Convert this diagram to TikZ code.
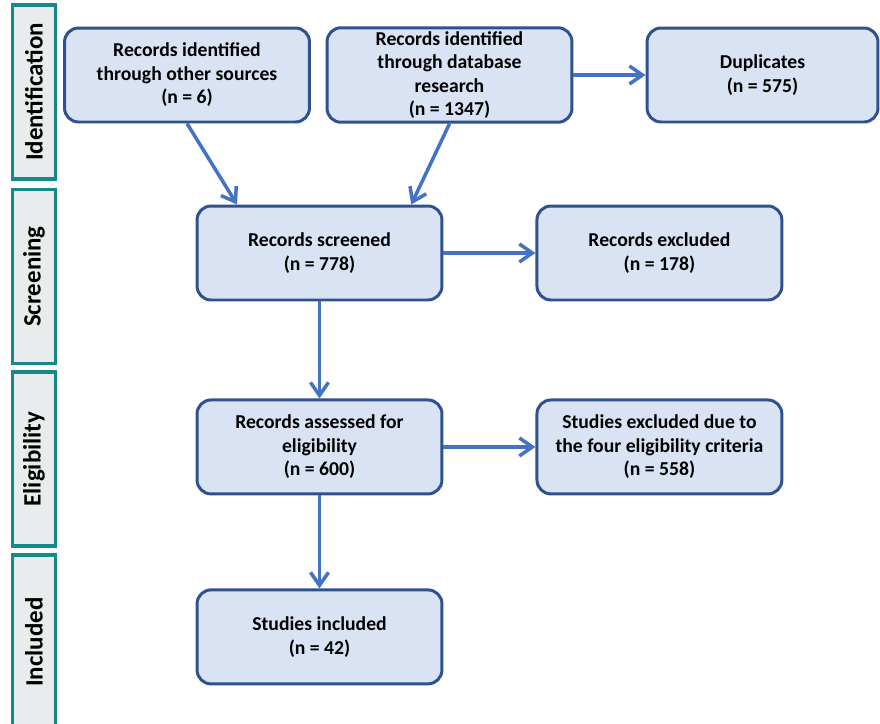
\documentclass[tikz,border=0pt]{standalone}
\usepackage{fontspec}
\setmainfont{Carlito}
\usepackage{tikz}
\usetikzlibrary{arrows.meta, positioning, calc}
\definecolor{boxfill}{HTML}{DAE3F3}
\definecolor{boxline}{HTML}{2F528F}
\definecolor{flowline}{HTML}{4472C4}
\definecolor{phaseline}{HTML}{168A8A}
\definecolor{phasefill}{HTML}{E8ECEC}

\begin{document}
\begin{tikzpicture}[x=0.02cm, y=-0.02cm,
        block/.style={rectangle, rounded corners=0.28cm, draw=boxline, line width=1.7pt, fill=boxfill,
            minimum width=4.9cm, minimum height=1.88cm, align=center, inner sep=2pt,
            font=\fontsize{11.2}{13.4}\selectfont\bfseries},
        phase/.style={rectangle, draw=phaseline, line width=2pt, fill=phasefill, rotate=90,
            minimum width=3.48cm, minimum height=0.86cm, inner sep=0pt,
            font=\fontsize{14.2}{17}\selectfont\bfseries},
        arrow/.style={-{Straight Barb[length=2.6mm, width=3.6mm]}, line width=2pt, draw=flowline}
    ]
        \useasboundingbox (0,0) rectangle (880,724);

        % Phase labels
        \node[phase] (ident) at (34,92) {Identification};
        \node[phase] (screen) at (34,276.5) {Screening};
        \node[phase] (elig) at (34,459) {Eligibility};
        \node[phase] (incl) at (34,642) {Included};

        % Identification
        \node[block] (other) at (187,75) {Records identified\\through other sources\\(n = 6)};
        \node[block] (database) at (449.5,75) {Records identified\\through database\\research\\(n = 1347)};
        \node[block, minimum width=4.62cm] (dup) at (762.5,75) {Duplicates\\(n = 575)};

        % Screening
        \node[block] (screened) at (319.5,253) {Records screened\\(n = 778)};
        \node[block, right=1.84cm of screened] (excluded) {Records excluded\\(n = 178)};

        % Eligibility
        \node[block, below=1.94cm of screened] (assessed) {Records assessed for\\eligibility\\(n = 600)};
        \node[block, right=1.84cm of assessed] (critexcl) {Studies excluded due to\\the four eligibility criteria\\(n = 558)};

        % Included
        \node[block, below=1.86cm of assessed] (included) {Studies included\\(n = 42)};

        % Arrows
        \draw[arrow] (other.south) -- ($(screened.north)!0.665!(screened.north west)$);
        \draw[arrow] (database.south) -- ($(screened.north)!0.74!(screened.north east)$);
        \draw[arrow] (database) -- (dup);
        \draw[arrow] (screened) -- (excluded);
        \draw[arrow] (screened) -- (assessed);
        \draw[arrow] (assessed) -- (critexcl);
        \draw[arrow] (assessed) -- (included);

    \end{tikzpicture}
\end{document}
